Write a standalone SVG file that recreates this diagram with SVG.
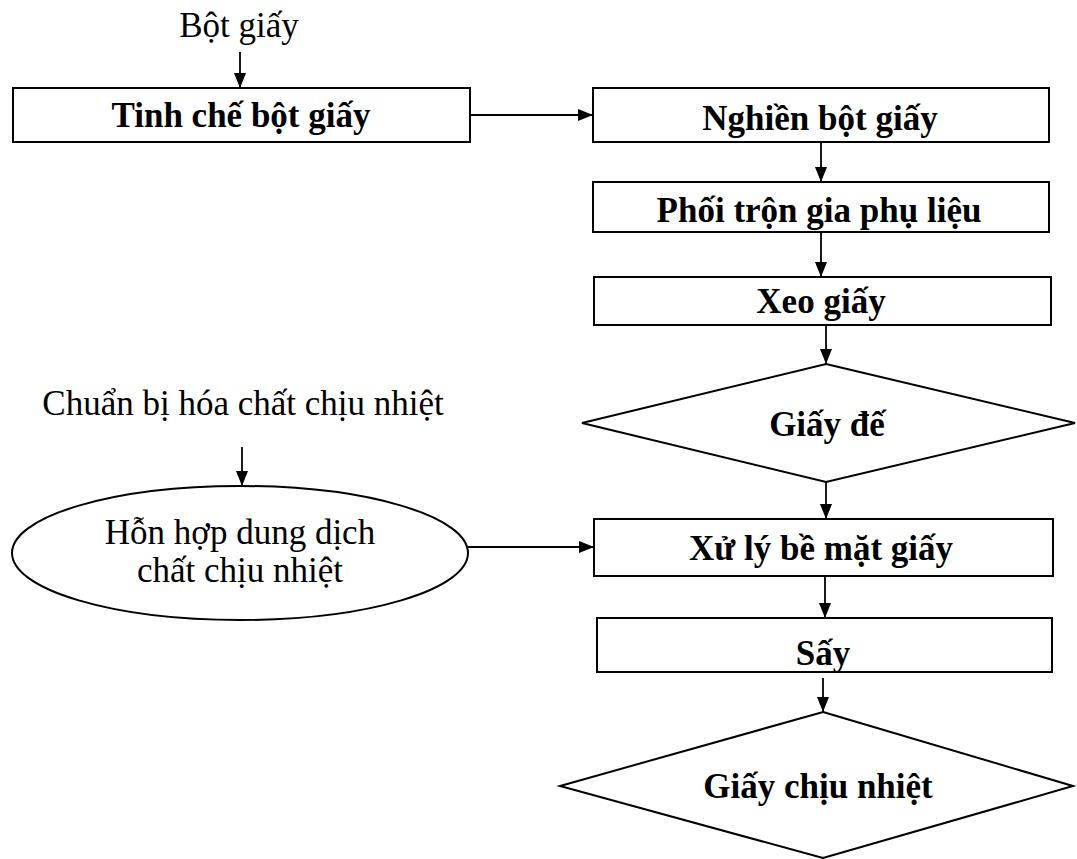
<svg xmlns="http://www.w3.org/2000/svg" width="1077" height="859" viewBox="0 0 1077 859">
<style>
.box{fill:#fff;stroke:#000;stroke-width:2}
.shape{fill:#fff;stroke:#000;stroke-width:2}
.t{font-family:"Liberation Serif","Times New Roman",serif;font-size:35px;fill:#000;text-anchor:middle}
.b{font-weight:bold}
.c{stroke:#000;stroke-width:1.8;fill:none;marker-end:url(#ah)}
</style>
<defs>
<marker id="ah" markerUnits="userSpaceOnUse" markerWidth="16" markerHeight="16" viewBox="0 0 16 16" refX="15" refY="8" orient="auto">
<path d="M0,2 L15,8 L0,14 Z" fill="#000"/>
</marker>
</defs>
<rect width="1077" height="859" fill="#fff"/>
<g id="connectors">
<line class="c" x1="240" y1="52" x2="240" y2="88"/>
<line class="c" x1="470" y1="115" x2="593" y2="115"/>
<line class="c" x1="821" y1="142" x2="821" y2="182"/>
<line class="c" x1="821" y1="232" x2="821" y2="277"/>
<line class="c" x1="826" y1="325" x2="826" y2="364"/>
<line class="c" x1="826" y1="482" x2="826" y2="519"/>
<line class="c" x1="242" y1="447" x2="242" y2="486"/>
<line class="c" x1="468" y1="547" x2="594" y2="547"/>
<line class="c" x1="825" y1="576" x2="825" y2="618"/>
<line class="c" x1="823" y1="678" x2="823" y2="712"/>
</g>
<g id="label-bot-giay">
<text class="t" x="239" y="37">Bột giấy</text>
</g>
<g id="tinh-che">
<rect class="box" x="13" y="88" width="457" height="54"/>
<text class="t b" x="241" y="127">Tinh chế bột giấy</text>
</g>
<g id="nghien">
<rect class="box" x="593" y="88" width="456" height="54"/>
<text class="t b" x="820" y="130">Nghiền bột giấy</text>
</g>
<g id="phoi-tron">
<rect class="box" x="593" y="182" width="456" height="50"/>
<text class="t b" x="819" y="222">Phối trộn gia phụ liệu</text>
</g>
<g id="xeo-giay">
<rect class="box" x="594" y="277" width="457" height="48"/>
<text class="t b" x="821" y="313">Xeo giấy</text>
</g>
<g id="giay-de">
<polygon class="shape" points="826,364 1075,423 826,482 582,423"/>
<text class="t b" x="827" y="436">Giấy đế</text>
</g>
<g id="label-chuan-bi">
<text class="t" x="243" y="415">Chuẩn bị hóa chất chịu nhiệt</text>
</g>
<g id="hon-hop">
<ellipse class="shape" cx="240" cy="553" rx="228" ry="67"/>
<text class="t" x="240" y="544">Hỗn hợp dung dịch</text>
<text class="t" x="240" y="582">chất chịu nhiệt</text>
</g>
<g id="xu-ly">
<rect class="box" x="594" y="519" width="459" height="57"/>
<text class="t b" x="821" y="560">Xử lý bề mặt giấy</text>
</g>
<g id="say">
<rect class="box" x="597" y="618" width="455" height="54"/>
<text class="t b" x="823" y="665">Sấy</text>
</g>
<g id="giay-chiu-nhiet">
<polygon class="shape" points="823,712 1073,786 823,858 560,786"/>
<text class="t b" x="818" y="798">Giấy chịu nhiệt</text>
</g>
</svg>
